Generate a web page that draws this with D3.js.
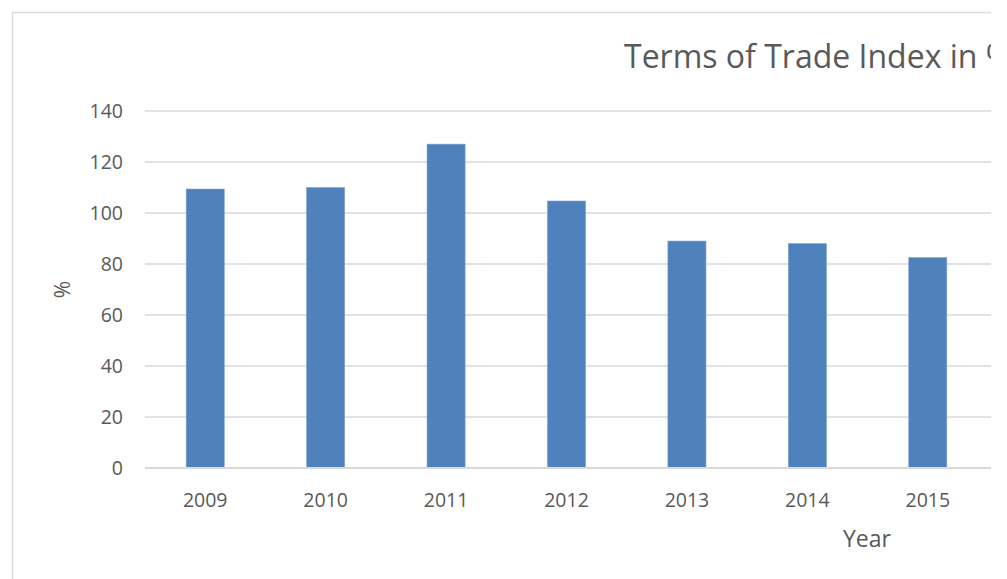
<!DOCTYPE html>
<html lang="en">
<head>
<meta charset="utf-8">
<script src="https://d3js.org/d3.v7.min.js"></script>
<style type="text/css">
body {
  margin: 0;
  background: #fff;
}
text {
  font-family: "Open Sans", Lato, sans-serif;
  fill: #595959;
}
.grid line {
  stroke: #d9d9d9;
  stroke-width: 1.5;
}
</style>
<title>Terms of Trade Index in %</title>
</head>
<body>
<script type="text/javascript">
var years = ["2009", "2010", "2011", "2012", "2013", "2014", "2015"];
var tradeIndex = [109.4, 110.0, 127.0, 104.7, 89.0, 88.0, 82.5];
var yTicks = [0, 20, 40, 60, 80, 100, 120, 140];

var width = 1007, height = 579;
var plot = {left: 145, right: 988, top: 111, bottom: 468, clip: 991};

var x = d3.scaleBand()
    .domain(years)
    .range([plot.left, plot.right])
    .paddingInner(0.684)
    .paddingOuter(0.342);

var y = d3.scaleLinear()
    .domain([0, 140])
    .range([plot.bottom, plot.top]);

var svg = d3.select("body").append("svg")
    .attr("width", width)
    .attr("height", height);

svg.append("clipPath").attr("id", "chartclip")
  .append("rect")
    .attr("x", 0).attr("y", 0)
    .attr("width", plot.clip).attr("height", height);

var chart = svg.append("g").attr("clip-path", "url(#chartclip)");

// chart area border (right and bottom edges are cut off)
chart.append("rect")
    .attr("x", 12.5).attr("y", 12.5)
    .attr("width", 1100).attr("height", 700)
    .attr("fill", "none")
    .attr("stroke", "#d9d9d9")
    .attr("stroke-width", 1.5);

chart.append("text")
    .attr("x", 624)
    .attr("y", 68)
    .style("font-size", "32px")
    .text("Terms of Trade Index in %");

var grid = chart.append("g").attr("class", "grid");
grid.selectAll("line")
    .data(yTicks)
    .enter()
    .append("line")
      .attr("x1", plot.left)
      .attr("x2", plot.clip)
      .attr("y1", function(d){ return y(d); })
      .attr("y2", function(d){ return y(d); });

var yAxis = chart.append("g")
    .attr("transform", "translate(" + plot.left + ",0)")
    .call(d3.axisLeft(y).tickValues(yTicks).tickSize(0).tickPadding(22));
yAxis.select(".domain").remove();
yAxis.selectAll("text")
    .style("font-size", "19.5px")
    .style("font-family", "'Open Sans', Lato, sans-serif")
    .attr("fill", "#595959");

var xAxis = chart.append("g")
    .attr("transform", "translate(0," + plot.bottom + ")")
    .call(d3.axisBottom(x).tickSize(0).tickPadding(25));
xAxis.select(".domain").remove();
xAxis.selectAll("text")
    .style("font-size", "19.5px")
    .style("font-family", "'Open Sans', Lato, sans-serif")
    .attr("fill", "#595959");

chart.append("g")
  .selectAll("rect")
  .data(tradeIndex)
  .enter()
  .append("rect")
    .attr("x", function(d, i){ return x(years[i]); })
    .attr("y", function(d){ return y(d); })
    .attr("width", x.bandwidth())
    .attr("height", function(d){ return y(0) - y(d); })
    .attr("fill", "#4f81bd")
    .attr("stroke", "#7ba0d0")
    .attr("stroke-width", 0.6);

chart.append("line")
    .attr("x1", plot.left).attr("x2", plot.clip)
    .attr("y1", y(0)).attr("y2", y(0))
    .attr("stroke", "#d9d9d9")
    .attr("stroke-width", 2);

chart.append("text")
    .attr("transform", "translate(70," + (plot.top + plot.bottom) / 2 + ") rotate(-90)")
    .attr("text-anchor", "middle")
    .style("font-size", "21px")
    .text("%");

chart.append("text")
    .attr("x", 867)
    .attr("y", 547)
    .attr("text-anchor", "middle")
    .style("font-size", "23px")
    .text("Year");
</script>
</body>
</html>
